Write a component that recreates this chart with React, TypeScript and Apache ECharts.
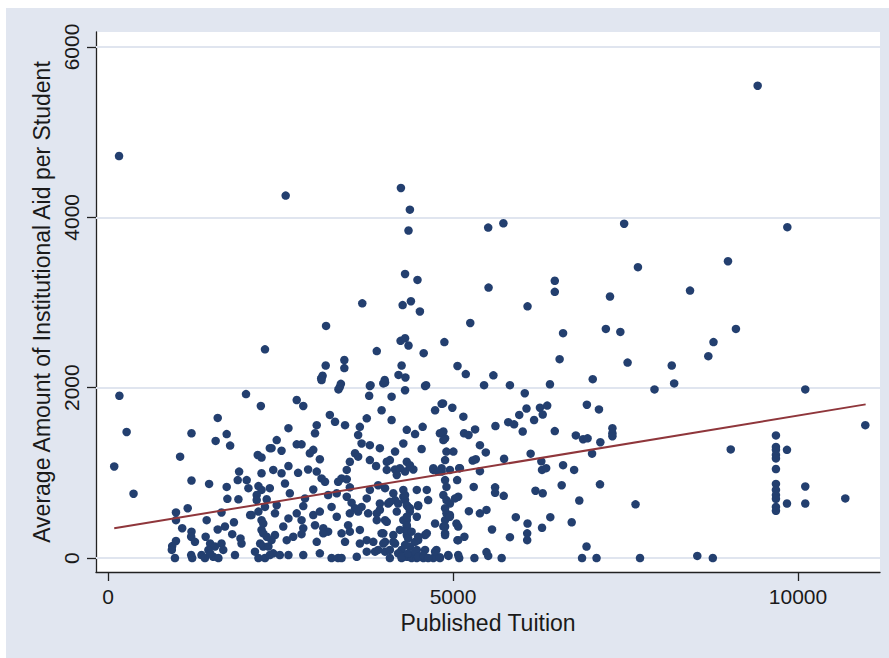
import * as echarts from "echarts";
import { useEffect, useRef } from "react";

// axis ticks
const xTicks = [0, 5000, 10000];
const yTicks = [0, 2000, 4000, 6000];

// fitted line, read at both ends
const fitTuition = [90, 10980];
const fitAid = [349, 1804];

// [published tuition, average institutional aid per student]
const colleges: [number, number][] = [
  [160, 4720], [165, 1905], [270, 1480], [90, 1075], [370, 755],
  [2575, 4255], [3160, 2725], [2275, 2450], [3425, 2325], [3425, 2230], [3155, 2260], [3110, 2140], [3090, 2110], [3375, 2045],
  [4245, 4345], [4375, 4090], [4355, 3845], [5510, 3880], [5730, 3930], [4305, 3335], [4485, 3265], [5515, 3175],
  [6475, 3255], [6475, 3125], [3685, 2990], [4270, 2970], [4390, 3015], [4520, 2895], [6080, 2955], [7275, 3070],
  [5250, 2760], [6595, 2640], [7215, 2690], [4240, 2550], [4305, 2580], [4355, 2495], [3895, 2430], [4875, 2535],
  [4575, 2405], [6545, 2335], [4255, 2260], [4210, 2150], [4310, 2120], [5065, 2255], [5185, 2160], [5585, 2145],
  [7025, 2100], [3805, 2030], [4010, 2090], [3990, 2050], [4610, 2030], [5450, 2030], [5825, 2030], [6405, 2040],
  [9415, 5545], [7480, 3925], [9845, 3885], [7680, 3415], [8985, 3485], [8435, 3140], [7425, 2655], [9100, 2690],
  [8775, 2535], [8700, 2370], [7530, 2295], [8170, 2260], [8205, 2050], [7920, 1980], [10105, 1980],
  [7310, 1525], [7310, 1465], [7310, 1430], [10975, 1560], [9680, 1440], [9680, 1305], [9680, 1270], [9680, 1210],
  [9680, 1170], [9840, 1270], [9680, 1045], [9680, 870], [9680, 800], [9680, 740], [9680, 695], [9680, 600],
  [9680, 555], [9840, 640], [10105, 840], [10105, 640], [10685, 700], [9025, 1275], [7645, 630], [7710, 0],
  [8540, 25], [8765, 0],
  [6040, 1935], [4855, 1815], [4990, 1765], [5150, 1660], [6065, 1755], [6260, 1765], [6365, 1790], [6300, 1685],
  [5960, 1680], [6175, 1620], [5800, 1595], [5885, 1570], [5615, 1550], [6010, 1485], [6475, 1490], [6940, 1800],
  [7115, 1745], [6780, 1440], [6885, 1395], [6950, 1405], [7135, 1360], [7015, 1225], [5160, 1465], [5225, 1445],
  [5320, 1510], [5390, 1325], [5475, 1240], [5285, 1145], [5330, 1160], [5740, 1165], [6125, 1225], [6280, 1135],
  [6290, 1035], [6350, 1055], [6595, 1090], [6755, 1035], [5390, 1020], [5090, 1055], [5060, 915], [5300, 835],
  [5610, 830], [5610, 765], [5735, 730], [6195, 790], [6300, 760], [6575, 855], [7130, 865], [6830, 675],
  [5230, 550], [5390, 525], [5485, 565], [5910, 480], [6080, 405], [6410, 480], [6290, 355], [6720, 420],
  [5565, 335], [6075, 290], [6075, 210], [5825, 245], [5165, 250], [5065, 210], [6935, 135], [5485, 70],
  [5510, 25], [4935, 25], [5090, 0], [5310, 0], [5705, 0], [6870, 0], [7080, 0], [4810, 0],
  [4885, 1405], [4860, 1485], [4905, 1250], [5005, 1250], [4885, 1150], [4835, 1055], [4955, 1035], [4885, 915],
  [4905, 835], [4860, 740], [4905, 680], [4955, 640], [4885, 585], [4905, 525], [4955, 505], [4885, 445],
  [4860, 370], [4885, 290], [5050, 405], [5075, 370], [5100, 1055], [5075, 720],
  [3095, 2090], [3360, 2010], [3795, 2020], [4015, 2060], [4305, 1970], [4595, 2020], [3785, 1905], [4110, 1895],
  [2735, 1855], [2830, 1785], [3965, 1735], [3215, 1680], [3290, 1600], [3435, 1560], [3750, 1640], [3650, 1540],
  [4110, 1620], [3025, 1560], [3000, 1465], [2615, 1525], [4330, 1505], [4450, 1455], [4560, 1540], [4740, 1735],
  [4835, 1810], [4810, 1465], [4860, 1385], [3625, 1445], [3675, 1345], [2445, 1385], [2370, 1290], [2735, 1335],
  [2805, 1335], [2515, 1260], [2975, 1270], [2925, 1230], [3795, 1325], [3940, 1290], [4280, 1345], [4545, 1280],
  [4160, 1250], [3070, 1160], [3580, 1230], [3505, 1130], [3625, 1190], [3795, 1150], [3885, 1080], [4040, 1130],
  [4085, 1150], [4330, 1130], [2395, 1035], [2515, 995], [2615, 1080], [2755, 1000], [2900, 1040], [3025, 1015],
  [3095, 935], [3145, 895], [3385, 935], [3335, 895], [3460, 925], [3460, 1035], [4040, 1035], [4160, 1040],
  [4185, 975], [4305, 1015], [4375, 1090], [4425, 1040], [4715, 1035], [4835, 1015], [2565, 875], [2345, 820],
  [2635, 760], [2975, 805], [3190, 740], [3315, 760], [3505, 830], [3795, 800], [4015, 820], [4135, 760],
  [4280, 800], [4280, 720], [4475, 800], [4620, 800], [2855, 700], [2830, 610], [2445, 620], [3240, 600],
  [3460, 720], [3530, 650], [3580, 585], [3750, 700], [3675, 600], [3940, 640], [4060, 640], [4160, 680],
  [4305, 680], [4350, 600], [4375, 545], [4495, 610], [2420, 525], [2615, 465], [2735, 525], [2805, 445],
  [2975, 505], [3070, 545], [3315, 485], [3505, 525], [3625, 545], [3770, 525], [3895, 525], [4015, 445],
  [4185, 545], [4330, 445], [4330, 370], [4475, 485], [4740, 405], [2540, 370], [2830, 350], [3000, 385],
  [3120, 350], [3190, 310], [3120, 290], [3385, 290], [3480, 385], [3505, 310], [3650, 330], [3990, 290],
  [4330, 270], [4595, 270], [4495, 210], [2420, 270], [2590, 210], [2685, 250], [2805, 280], [3025, 190],
  [3435, 190], [3650, 170], [3750, 210], [3845, 190], [4015, 190], [4160, 170], [4255, 95], [4375, 135],
  [4475, 95], [4595, 95], [4760, 95], [2395, 55], [2490, 35], [2615, 35], [2830, 35], [3070, 55],
  [3240, 0], [3335, 0], [3385, 0], [3605, 15], [3750, 75], [3870, 75], [4015, 75], [4085, 0],
  [4255, 0], [4330, 15], [4400, 0], [4475, 0], [4570, 0], [4715, 0], [4810, 10], [4930, 35], [3340, 1980],
  [2000, 1925], [2215, 1785], [1590, 1645], [1210, 1465], [1720, 1455], [1560, 1375], [1770, 1320], [1045, 1190],
  [2170, 1210], [2225, 1180], [2345, 1290], [1900, 1015], [2225, 995], [1210, 910], [1465, 870], [1880, 915],
  [2010, 915], [2035, 820], [1720, 835], [2180, 845], [2225, 800], [1730, 695], [1890, 690], [2155, 740],
  [2155, 680], [2300, 690], [1155, 585], [985, 535], [985, 445], [1645, 535], [1430, 445], [2060, 505],
  [2180, 545], [2275, 600], [2225, 445], [2225, 330], [1825, 420], [1695, 370], [1590, 335], [1075, 350],
  [1210, 310], [1800, 280], [1920, 230], [1935, 170], [1205, 250], [1260, 190], [1415, 250], [1480, 170],
  [1550, 135], [1455, 95], [1645, 170], [1670, 95], [985, 200], [930, 140], [925, 95], [970, 0],
  [1205, 35], [1220, 0], [1355, 35], [1405, 0], [1525, 15], [1600, 0], [1480, 55], [1840, 35],
  [2130, 75], [2205, 170], [2250, 135], [2180, 0], [2275, 0], [2345, 35], [2325, 135], [2370, 210],
  [2250, 405], [2250, 290], [2300, 250], [2080, 505],
  [4375, 1070], [4230, 1055], [4715, 1055], [4785, 1015], [3915, 855], [4085, 660], [4205, 640], [4305, 740],
  [4330, 620], [4375, 585], [4495, 620], [4640, 680], [4955, 485], [5030, 700], [3940, 565], [3895, 445],
  [4040, 425], [4280, 445], [4330, 485], [4330, 385], [4330, 310], [4350, 230], [4305, 155], [4450, 190],
  [4495, 250], [4620, 290], [4885, 370], [4885, 270], [5075, 210], [3965, 290], [3990, 170], [4135, 190],
  [4085, 95], [3915, 95], [4205, 55], [4255, 15], [4350, 55], [4450, 75], [4495, 15], [4570, 35],
  [4740, 75], [5075, 35], [4640, 0], [4400, 310], [4230, 330], [4135, 270],
];

const ink = "#1a1a1a";
const font = "'Liberation Sans', Arial, sans-serif";

export default function App() {
  const chartRef = useRef<HTMLDivElement | null>(null);

  useEffect(() => {
    if (!chartRef.current) return;
    const chart = echarts.init(chartRef.current, null, { renderer: "svg" });
    chart.setOption({
      animation: false,
      backgroundColor: "#e1e6f0",
      textStyle: { fontFamily: font },
      grid: {
        left: 90,
        top: 24,
        right: 9,
        bottom: 86,
        show: true,
        backgroundColor: "#ffffff",
        borderWidth: 0,
      },
      xAxis: {
        type: "value",
        min: -174,
        max: 11188,
        name: "Published Tuition",
        nameLocation: "middle",
        nameGap: 37,
        nameTextStyle: { fontSize: 23, color: ink, fontFamily: font },
        axisLine: { show: true, onZero: false, lineStyle: { color: "#222", width: 1.3 } },
        axisTick: { show: true, length: 9, customValues: xTicks, lineStyle: { color: "#222", width: 1.3 } },
        axisLabel: {
          customValues: xTicks,
          formatter: (v: number) => String(v),
          fontSize: 21,
          color: ink,
          margin: 14,
          fontFamily: font,
        },
        splitLine: { show: false },
      },
      yAxis: {
        type: "value",
        min: -164,
        max: 6176,
        name: "Average Amount of Institutional Aid per Student",
        nameLocation: "middle",
        nameGap: 35,
        nameTextStyle: { fontSize: 23, color: ink, fontFamily: font },
        axisLine: { show: true, onZero: false, lineStyle: { color: "#222", width: 1.3 } },
        axisTick: { show: true, length: 9, customValues: yTicks, lineStyle: { color: "#222", width: 1.3 } },
        axisLabel: {
          customValues: yTicks,
          formatter: (v: number) => String(v),
          rotate: 90,
          fontSize: 21,
          color: ink,
          margin: 14,
          fontFamily: font,
        },
        splitLine: { show: false },
      },
      series: [
        {
          type: "scatter",
          data: colleges,
          symbolSize: 8.5,
          itemStyle: { color: "#233f6f", opacity: 1 },
          z: 2,
          markLine: {
            silent: true,
            symbol: "none",
            z: 1,
            label: { show: false },
            lineStyle: { color: "#e0e5ef", width: 2, type: "solid" },
            emphasis: { disabled: true },
            data: yTicks.map((v) => ({ yAxis: v })),
          },
        },
        {
          type: "line",
          data: fitTuition.map((x, i) => [x, fitAid[i]]),
          showSymbol: false,
          symbol: "none",
          lineStyle: { color: "#8f363b", width: 2 },
          z: 3,
        },
      ],
    });
    return () => chart.dispose();
  }, []);

  return (
    <div
      ref={chartRef}
      style={{ position: "absolute", left: 6, top: 8, width: 883, height: 650 }}
    />
  );
}
